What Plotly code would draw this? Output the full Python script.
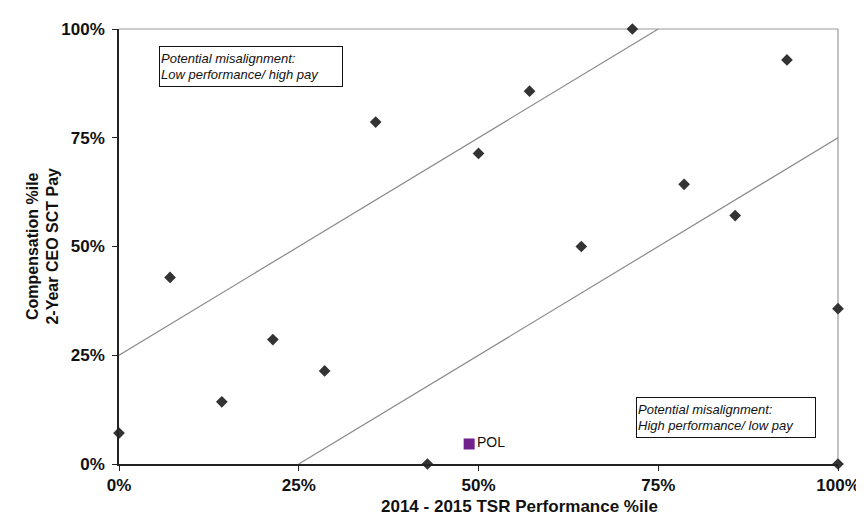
import plotly.graph_objects as go

# Peer data: TSR performance percentile (x) vs CEO pay percentile (y)
tsr_pct = [0.0, 0.071, 0.143, 0.214, 0.286, 0.357, 0.429, 0.5, 0.571, 0.643,
           0.714, 0.786, 0.857, 0.929, 1.0, 1.0]
pay_pct = [0.071, 0.429, 0.143, 0.286, 0.214, 0.786, 0.0, 0.714, 0.857, 0.5,
           1.0, 0.643, 0.571, 0.929, 0.357, 0.0]

# Company of interest
pol_name = ["POL"]
pol_tsr = [0.487]
pol_pay = [0.046]

# Alignment band boundaries
upper_x = [0.0, 0.75]
upper_y = [0.25, 1.0]
lower_x = [0.25, 1.0]
lower_y = [0.0, 0.75]

tick_vals = [0, 0.25, 0.5, 0.75, 1.0]
tick_text = ["0%", "25%", "50%", "75%", "100%"]

FONT = "Liberation Sans, Arial, sans-serif"

fig = go.Figure()
fig.add_trace(go.Scatter(x=upper_x, y=upper_y, mode="lines",
                         line=dict(color="#8a8a8a", width=1.2),
                         hoverinfo="skip", showlegend=False))
fig.add_trace(go.Scatter(x=lower_x, y=lower_y, mode="lines",
                         line=dict(color="#8a8a8a", width=1.2),
                         hoverinfo="skip", showlegend=False))
fig.add_trace(go.Scatter(x=tsr_pct, y=pay_pct, mode="markers",
                         marker=dict(symbol="diamond", size=9, color="#333333"),
                         cliponaxis=False, showlegend=False))
fig.add_trace(go.Scatter(x=pol_tsr, y=pol_pay, mode="markers+text",
                         text=pol_name, textposition="middle right",
                         textfont=dict(family=FONT, size=14, color="#111111"),
                         marker=dict(symbol="square", size=11, color="#71208C"),
                         cliponaxis=False, showlegend=False))

axis_common = dict(range=[0, 1], tickvals=tick_vals, ticktext=tick_text,
                   showgrid=False, zeroline=False, showline=True,
                   linecolor="#222222", linewidth=1.5, ticks="outside",
                   ticklen=5, tickcolor="#222222", tickwidth=1,
                   tickfont=dict(family=FONT, size=17, color="#111111", weight="bold"))

fig.update_layout(
    width=864, height=518,
    margin=dict(l=111, r=22, t=18, b=62),
    plot_bgcolor="white", paper_bgcolor="white",
    xaxis=axis_common,
    yaxis=dict(**axis_common, ticklabelstandoff=4),
    shapes=[
        dict(type="line", xref="x domain", yref="y domain", x0=0, x1=1, y0=1, y1=1,
             line=dict(color="#999999", width=1.2), layer="below"),
        dict(type="line", xref="x domain", yref="y domain", x0=1, x1=1, y0=0, y1=1,
             line=dict(color="#999999", width=1.2), layer="below"),
    ],
    annotations=[
        dict(text="<b>2014 - 2015 TSR Performance %ile</b>", xref="paper", yref="paper",
             x=0.557, y=-0.098, xanchor="center", yanchor="middle", showarrow=False,
             font=dict(family=FONT, size=17, color="#111111")),
        dict(text="<b>Compensation %ile<br>2-Year CEO SCT Pay</b>", xref="paper", yref="paper",
             x=-0.107, y=0.5, xanchor="center", yanchor="middle", textangle=-90,
             showarrow=False, font=dict(family=FONT, size=16, color="#111111")),
        dict(text="<i>Potential misalignment:<br>Low performance/ high pay</i>",
             xref="x", yref="y", x=0.056, y=0.961, xanchor="left", yanchor="top",
             align="left", showarrow=False, width=180, height=37, valign="middle",
             bordercolor="#111111", borderwidth=1, borderpad=1, bgcolor="white",
             font=dict(family=FONT, size=13, color="#111111")),
        dict(text="<i>Potential misalignment:<br>High performance/ low pay</i>",
             xref="x", yref="y", x=0.719, y=0.153, xanchor="left", yanchor="top",
             align="left", showarrow=False, width=176, height=37, valign="middle",
             bordercolor="#111111", borderwidth=1, borderpad=1, bgcolor="white",
             font=dict(family=FONT, size=13, color="#111111")),
    ],
)

fig.write_html("out.html")
